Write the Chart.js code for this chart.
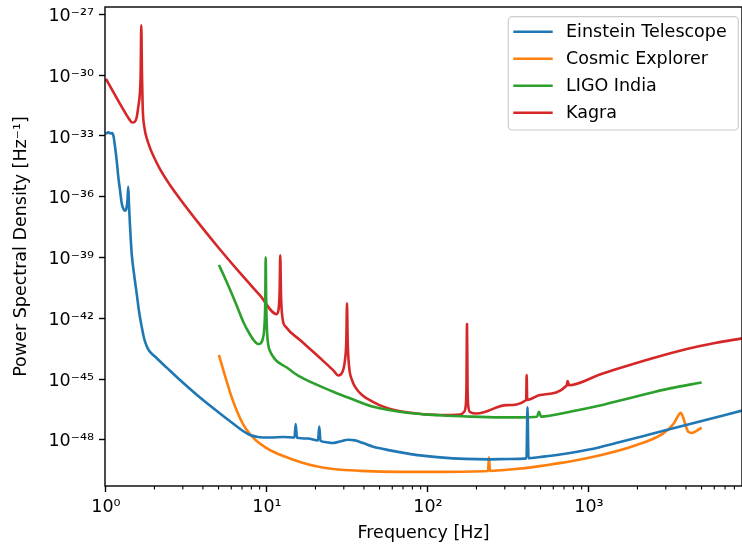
<!DOCTYPE html>
<html>
<head>
<meta charset="utf-8">
<script src="https://cdn.jsdelivr.net/npm/chart.js@4.4.1/dist/chart.umd.min.js"></script>
<style>
    html, body { margin: 0; padding: 0; background: #fff; }
    #wrap { width: 742px; height: 548px; }
</style>
</head>
<body>
<div id="wrap"><canvas id="psdChart" width="742" height="548"></canvas></div>
<script>
// Noise curves: frequency in Hz, PSD in 1/Hz

// Einstein Telescope
var etFreq = [1.0, 1.036, 1.066, 1.09, 1.113, 1.137, 1.17, 1.192, 1.222, 1.252, 1.284, 1.312, 1.341, 1.36, 1.375, 1.39, 1.402, 1.444, 1.492, 1.551, 1.603, 1.666, 1.722, 1.789, 1.849, 2.015, 2.382, 2.882, 3.837, 5.107, 6.327, 7.095, 7.842, 8.794, 10.44, 12.63,
    14.82, 15.07, 15.36, 17.98, 20.74, 21.13, 21.49, 22.92, 25.33, 28.4, 31.86, 35.2, 39.5, 45.73, 58.1, 73.75, 89.2, 118.7, 169.7, 242.7, 323,
    409, 415, 421, 496, 661, 1000, 1558, 2498, 4240, 8920];
var etPsd = [1.25e-33, 1.52e-33, 1.32e-33, 1.4e-33, 1.0e-33, 3.2e-34, 4.6e-35, 9.8e-36, 2.16e-36, 4.75e-37, 2.5e-37, 2.05e-37, 2.8e-37, 6.9e-37, 3.1e-36, 3.9e-37, 8.9e-38, 1.6e-39, 1.63e-40, 1.72e-41, 2.3e-42, 3.9e-43, 1.07e-43, 4.3e-44, 2.6e-44, 1.3e-44, 3.7e-45, 9.0e-46, 1.23e-46, 2.0e-47, 5.4e-48, 2.74e-48, 1.74e-48, 1.39e-48, 1.31e-48, 1.39e-48,
    1.31e-48, 6.1e-48, 1.28e-48, 1.17e-48, 9.5e-49, 4.5e-48, 9.0e-49, 7.85e-49, 7.0e-49, 8.3e-49, 1.01e-48, 9.5e-49, 7.0e-49, 4.6e-49, 3.05e-49, 2.17e-49, 1.73e-49, 1.38e-49, 1.16e-49, 1.1e-49, 1.14e-49,
    1.23e-49, 4.1e-47, 1.24e-49, 1.43e-49, 1.9e-49, 3.35e-49, 7.85e-49, 2.06e-48, 6.1e-48, 2.8e-47];

// Cosmic Explorer
var ceFreq = [5.03, 5.41, 5.89, 6.465, 7.125, 7.84, 8.63, 9.72, 11.21, 12.63, 16.03, 19.87, 25.81, 37.8, 67.0, 118.7, 235.9, 239.3, 242.7, 323, 496, 967.6, 1979, 2894, 3342, 3571, 3712, 3837, 3976, 4139, 4364, 4686, 5010];
var cePsd = [1.55e-44, 2.1e-45, 2.3e-46, 2.98e-47, 5.7e-48, 1.95e-48, 8.8e-49, 4.45e-49, 2.38e-49, 1.6e-49, 8.1e-50, 5.1e-50, 3.65e-50, 2.97e-50, 2.65e-50, 2.65e-50, 2.9e-50, 1.38e-49, 2.97e-50, 3.45e-50, 5.1e-50, 1.23e-49, 5.6e-49, 2.1e-48, 6.1e-48, 1.5e-47, 2.2e-47, 1.35e-47, 5.4e-48, 2.5e-48, 2.2e-48, 2.9e-48, 4.0e-48];

// LIGO India
var liFreq = [5.03, 5.41, 5.89, 6.465, 7.125, 7.84, 8.31, 8.83, 9.18, 9.445, 9.65, 9.759, 9.815, 9.886, 10.0, 10.19, 10.44, 10.9, 11.48, 13.12, 16.03, 25.81, 32.78, 45.73, 73.75, 118.7, 182.4, 280, 372.7, 475.3, 489, 503.3, 762, 1170, 1558, 2393, 3185, 5010];
var liPsd = [4.3e-40, 1.23e-40, 2.65e-41, 4.5e-42, 6.6e-43, 1.59e-43, 8.0e-44, 5.4e-44, 6.05e-44, 1.07e-43, 4.7e-43, 8.0e-42, 1.03e-39, 8.0e-42, 2.65e-43, 4.8e-44, 2.43e-44, 1.3e-44, 7.8e-45, 3.95e-45, 1.31e-45, 2.4e-46, 1.13e-46, 4.3e-47, 2.2e-47, 1.65e-47, 1.41e-47, 1.3e-47, 1.3e-47, 1.38e-47, 2.45e-47, 1.41e-47, 2.45e-47, 4.95e-47, 8.8e-47, 2.06e-46, 3.5e-46, 6.8e-46];

// Kagra
var kaFreq = [1.0, 1.105, 1.222, 1.331, 1.40, 1.457, 1.503, 1.551, 1.587, 1.626, 1.642, 1.657, 1.673, 1.69, 1.734, 1.798, 1.876, 1.958, 2.165, 2.497, 2.882, 3.837, 5.107, 6.797, 9.05, 11.48,
    11.79, 11.99, 12.09, 12.22, 12.49, 13.12, 16.03, 21.35, 26.07, 27.7, 29.2, 30.5, 31.1, 31.4, 31.7, 32.3, 33.7, 35.7, 38.9, 45.8, 52.8, 73.7, 118.7, 158,
    167.3, 171.7, 173.4, 174.7, 176, 177.7, 182.4, 200.7, 308, 407.4, 410, 413.4, 496, 724.8, 737.5, 751, 1170, 1558, 2393, 4045, 6061, 8920];
var kaPsd = [6.5e-31, 1.57e-31, 3.8e-32, 1.2e-32, 6.4e-33, 4.6e-33, 4.9e-33, 8.2e-33, 2.7e-32, 1.48e-31, 1.15e-30, 2.9e-28, 1.15e-30, 2.7e-32, 2.5e-33, 7.1e-34, 2.6e-34, 1.15e-34, 2.3e-35, 3.8e-36, 7.8e-37, 4.1e-38, 2.5e-39, 1.74e-40, 1.35e-41, 1.6e-42,
    2.6e-42, 2.5e-41, 1.3e-39, 1.4e-41, 1.0e-42, 3.7e-43, 8.5e-44, 1.1e-44, 2.5e-45, 1.5e-45, 2.0e-45, 8.7e-45, 8.5e-44, 5.5e-42, 8.5e-44, 4.9e-45, 9.1e-46, 3.6e-46, 1.65e-46, 7.4e-47, 4.4e-47, 2.3e-47, 1.7e-47, 1.8e-47,
    2.4e-47, 5.2e-47, 5.1e-46, 5.2e-43, 5.1e-46, 5.2e-47, 2.4e-47, 2.0e-47, 5.2e-47, 9.3e-47, 1.6e-45, 9.4e-47, 1.64e-46, 4.7e-46, 8.1e-46, 5.0e-46, 1.69e-45, 3.5e-45, 9.8e-45, 3.05e-44, 6.0e-44, 1.03e-43];

var seriesNames = ["Einstein Telescope", "Cosmic Explorer", "LIGO India", "Kagra"];
var seriesColours = ["#1f77b4", "#ff7f0e", "#2ca02c", "#d62728"];

// tick positions
var yTicks = [1e-27, 1e-30, 1e-33, 1e-36, 1e-39, 1e-42, 1e-45, 1e-48];
var xTicks = [1, 10, 100, 1000];

var FONT = "DejaVu Sans";
var supers = {"-": "\u207B", "0": "\u2070", "1": "\u00B9", "2": "\u00B2", "3": "\u00B3",
    "4": "\u2074", "5": "\u2075", "6": "\u2076", "7": "\u2077", "8": "\u2078", "9": "\u2079"};

// 10^n label with unicode superscripts
function powLabel(value) {
    var exp = String(Math.round(Math.log10(value)));
    var out = "10";
    for (var i = 0; i < exp.length; i++) {
        out += supers[exp[i]];
    }
    return out;
}

function toPoints(xs, ys) {
    var pts = [];
    for (var i = 0; i < xs.length; i++) {
        pts.push({x: xs[i], y: ys[i]});
    }
    return pts;
}

var allFreq = [etFreq, ceFreq, liFreq, kaFreq];
var allPsd = [etPsd, cePsd, liPsd, kaPsd];
var datasets = [];
for (var s = 0; s < 4; s++) {
    datasets.push({
        label: seriesNames[s],
        data: toPoints(allFreq[s], allPsd[s]),
        borderColor: seriesColours[s],
        backgroundColor: seriesColours[s],
        borderWidth: 2.6,
        pointRadius: 0,
        fill: false,
        borderJoinStyle: "round",
        cubicInterpolationMode: "monotone"
    });
}

// frame, minor x ticks and a matplotlib style legend
var decorPlugin = {
    id: "decor",
    afterDatasetsDraw: function(chart) {
        var ctx = chart.ctx;
        var area = chart.chartArea;
        var xs = chart.scales.x;
        ctx.save();

        // minor ticks 2..9 per decade
        ctx.strokeStyle = "#000";
        ctx.lineWidth = 1.1;
        for (var d = 0; d < 4; d++) {
            for (var k = 2; k <= 9; k++) {
                var v = k * Math.pow(10, d);
                if (v < xs.min || v > xs.max) continue;
                var px = xs.getPixelForValue(v);
                ctx.beginPath();
                ctx.moveTo(px, area.bottom);
                ctx.lineTo(px, area.bottom + 3.5);
                ctx.stroke();
            }
        }

        // axes box
        ctx.lineWidth = 1.4;
        ctx.strokeRect(area.left, area.top, area.right - area.left, area.bottom - area.top);

        // legend
        var bx = area.right - 233.7, by = area.top + 9.7, bw = 230, bh = 113.3;
        ctx.beginPath();
        ctx.roundRect(bx, by, bw, bh, 4);
        ctx.fillStyle = "rgba(255,255,255,0.8)";
        ctx.fill();
        ctx.strokeStyle = "#cccccc";
        ctx.lineWidth = 1.2;
        ctx.stroke();

        ctx.font = "17.5px '" + FONT + "'";
        ctx.textBaseline = "middle";
        ctx.textAlign = "left";
        chart.data.datasets.forEach(function(ds, i) {
            var ly = by + 15 + i * 27;
            ctx.strokeStyle = ds.borderColor;
            ctx.lineWidth = 2.6;
            ctx.beginPath();
            ctx.moveTo(bx + 5, ly);
            ctx.lineTo(bx + 44.4, ly);
            ctx.stroke();
            ctx.fillStyle = "#000";
            ctx.fillText(ds.label, bx + 57.7, ly + 1);
        });
        ctx.restore();
    }
};

Chart.defaults.font.family = FONT;
Chart.defaults.font.size = 17.5;
Chart.defaults.color = "#000";

var ctx = document.getElementById("psdChart");
var psdChart = new Chart(ctx, {
    type: "line",
    data: {datasets: datasets},
    options: {
        responsive: false,
        animation: false,
        layout: {padding: {top: 7, right: 0, left: 0, bottom: 0}},
        plugins: {
            legend: {display: false},
            tooltip: {enabled: false}
        },
        scales: {
            x: {
                type: "logarithmic",
                min: 0.986,
                max: 8920,
                border: {display: false},
                grid: {drawOnChartArea: false, tickLength: 6, tickWidth: 1.4, tickColor: "#000"},
                afterBuildTicks: function(scale) {
                    scale.ticks = xTicks.map(function(v) { return {value: v}; });
                },
                ticks: {
                    autoSkip: false,
                    maxRotation: 0,
                    padding: 5,
                    callback: function(value) { return powLabel(value); }
                },
                title: {
                    display: true,
                    text: "Frequency [Hz]",
                    padding: {top: 0, bottom: 4}
                },
                afterFit: function(scale) {
                    scale.height = 62;
                    scale.paddingLeft = 0;
                    scale.paddingRight = 0;
                }
            },
            y: {
                type: "logarithmic",
                min: 5.31e-51,
                max: 2.32e-27,
                border: {display: false},
                grid: {drawOnChartArea: false, tickLength: 6, tickWidth: 1.4, tickColor: "#000"},
                afterBuildTicks: function(scale) {
                    scale.ticks = yTicks.map(function(v) { return {value: v}; });
                },
                ticks: {
                    autoSkip: false,
                    padding: 5,
                    labelOffset: 2,
                    callback: function(value) { return powLabel(value); }
                },
                title: {
                    display: true,
                    text: "Power Spectral Density [Hz\u207B\u00B9]",
                    padding: {top: 11, bottom: 0}
                },
                afterFit: function(scale) {
                    scale.width = 105;
                    scale.paddingTop = 0;
                    scale.paddingBottom = 0;
                }
            }
        }
    },
    plugins: [decorPlugin]
});
</script>
</body>
</html>
